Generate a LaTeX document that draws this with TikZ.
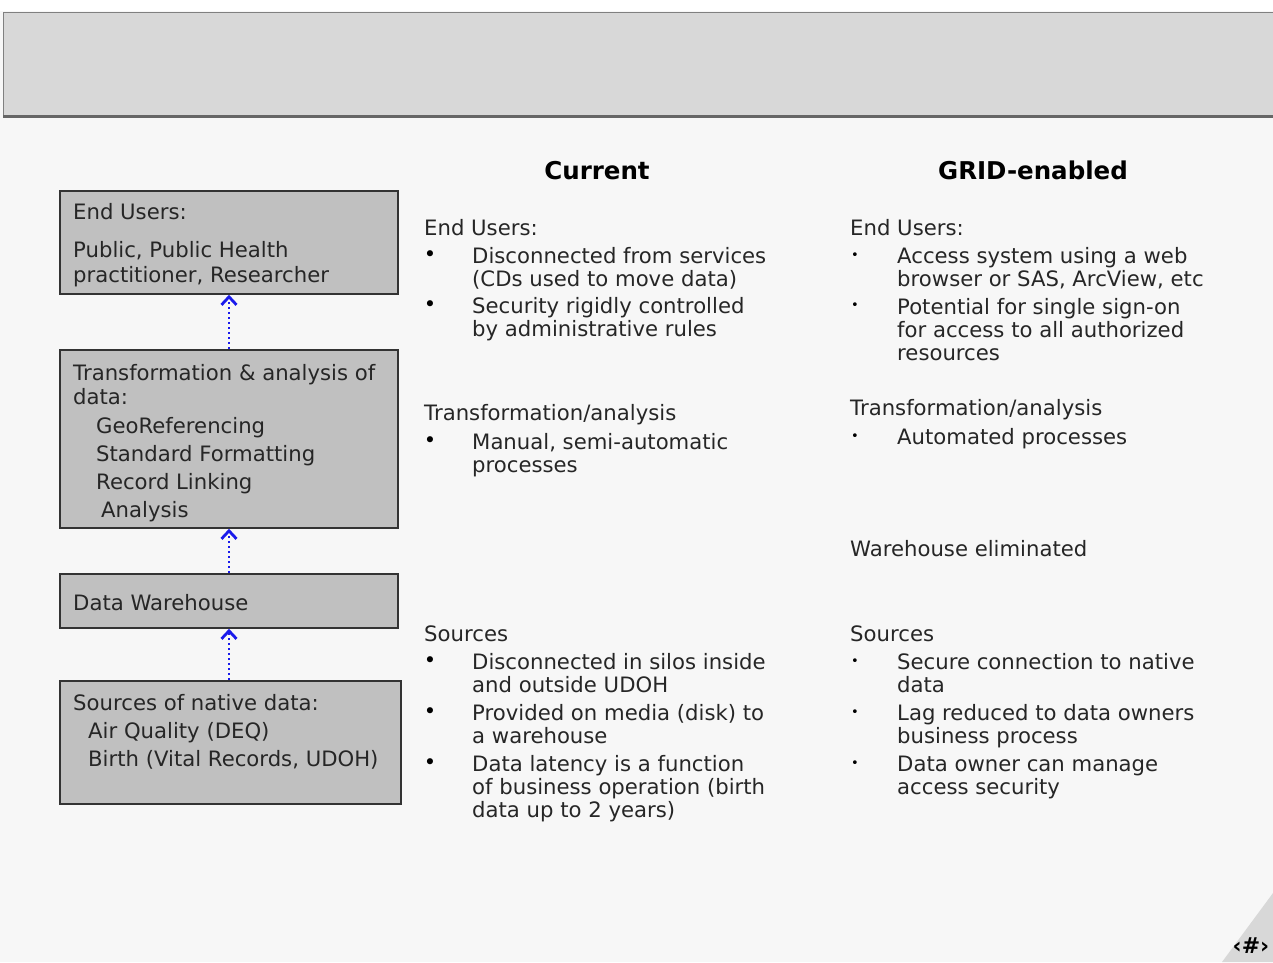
\documentclass[tikz,border=0pt]{standalone}
\usepackage{fontspec}
\setmainfont{DejaVu Sans}
\usetikzlibrary{arrows.meta}
\tikzset{>={Straight Barb[width=15pt,length=8pt,line width=2.8pt]}}
\definecolor{pagegray}{HTML}{F7F7F7}
\definecolor{bandgray}{HTML}{D8D8D8}
\definecolor{boxgray}{HTML}{C0C0C0}
\definecolor{edgegray}{HTML}{333333}
\definecolor{arrowblue}{HTML}{1A1AEB}
\definecolor{inkgray}{HTML}{262626}
\tikzset{
  layerbox/.style={draw=edgegray, line width=1.6pt, fill=boxgray, inner sep=0pt},
  txt/.style={anchor=base west, inner sep=0pt, align=left, text=inkgray,
    font=\fontsize{21.2}{23}\selectfont},
  head/.style={anchor=base, inner sep=0pt, text=black,
    font=\fontsize{24.5}{28}\selectfont\bfseries},
  bigdot/.style={anchor=center, inner sep=0pt, text=black,
    font=\fontsize{21}{23}\selectfont},
  smalldot/.style={anchor=center, inner sep=0pt, text=black,
    font=\fontsize{13}{14}\selectfont},
  uplink/.style={->, draw=arrowblue, line width=2.4pt, dash pattern=on 2.5pt off 2.5pt}
}
\begin{document}
\begin{tikzpicture}[x=1pt,y=-1pt]

  \newcommand\CA{424}
  \newcommand\CB{472}
  \newcommand\GA{850}
  \newcommand\GB{897}

  \useasboundingbox (0,0) rectangle (1273,962);
  \fill[pagegray] (0,0) rectangle (1273,962);
  \fill[white] (0,0) rectangle (1273,11);

  % title band
  \fill[bandgray] (3,12) rectangle (1273,115);
  \draw[gray, line width=1pt] (3,12) -- (1273,12);
  \draw[gray, line width=1pt] (3,12) -- (3,116);
  \draw[black!60, line width=3pt] (3,116) -- (1273,116);

  % corner
  \fill[bandgray] (1273,893) -- (1273,962) -- (1222,962) -- cycle;
  \node[anchor=base, inner sep=0pt, font=\fontsize{22}{24}\selectfont\bfseries]
    (slideno) at (1251,953) {‹\#›};

  % layers
  \node[layerbox, minimum width=338pt, minimum height=103pt] (users) at (229,242.5) {};
  \node[layerbox, minimum width=338pt, minimum height=178pt] (trans) at (229,439) {};
  \node[layerbox, minimum width=338pt, minimum height=54pt] (house) at (229,601) {};
  \node[layerbox, minimum width=341pt, minimum height=123pt] (source) at (230.5,742.5) {};

  \draw[uplink] (trans.north) -- (users.south);
  \draw[uplink] (house.north) -- (trans.south);
  \draw[uplink] (source.north -| house.south) -- (house.south);

  % multi-line texts sit on the baseline of their last line
  \node[txt] (users-a) at (73,219) {End Users:};
  \node[txt, font=\fontsize{21.2}{25}\selectfont] (users-b) at (73,282)
    {Public, Public Health\\practitioner, Researcher};
  \node[txt, font=\fontsize{21.2}{24}\selectfont] (trans-a) at (73,404)
    {Transformation \& analysis of\\data:};
  \node[txt, font=\fontsize{21.2}{28}\selectfont] (trans-b) at (96,517)
    {GeoReferencing\\Standard Formatting\\Record Linking\\\hspace*{5pt}Analysis};
  \node[txt] (house-a) at (73,610) {Data Warehouse};
  \node[txt] (source-a) at (73,710) {Sources of native data:};
  \node[txt, font=\fontsize{21.2}{28}\selectfont] (source-b) at (88,766)
    {Air Quality (DEQ)\\Birth (Vital Records, UDOH)};

  % current
  \node[head] (cur) at (597,179) {Current};
  \node[txt] (cur-eu) at (\CA,235) {End Users:};
  \node[bigdot] at (430,256) {•};
  \node[txt] (cur-eu1) at (\CB,286) {Disconnected from services\\(CDs used to move data)};
  \node[bigdot] at (430,306) {•};
  \node[txt] (cur-eu2) at (\CB,336) {Security rigidly controlled\\by administrative rules};
  \node[txt] (cur-ta) at (\CA,420) {Transformation/analysis};
  \node[bigdot] at (430,442) {•};
  \node[txt] (cur-ta1) at (\CB,472) {Manual, semi-automatic\\processes};
  \node[txt] (cur-so) at (\CA,641) {Sources};
  \node[bigdot] at (430,662) {•};
  \node[txt] (cur-so1) at (\CB,692) {Disconnected in silos inside\\and outside UDOH};
  \node[bigdot] at (430,713) {•};
  \node[txt] (cur-so2) at (\CB,743) {Provided on media (disk) to\\a warehouse};
  \node[bigdot] at (430,764) {•};
  \node[txt] (cur-so3) at (\CB,817)
    {Data latency is a function\\of business operation (birth\\data up to 2 years)};

  % grid-enabled
  \node[head] (grid) at (1033,179) {GRID-enabled};
  \node[txt] (grid-eu) at (\GA,235) {End Users:};
  \node[smalldot] at (855,256) {•};
  \node[txt] (grid-eu1) at (\GB,286) {Access system using a web\\browser or SAS, ArcView, etc};
  \node[smalldot] at (855,306) {•};
  \node[txt] (grid-eu2) at (\GB,360)
    {Potential for single sign-on\\for access to all authorized\\resources};
  \node[txt] (grid-ta) at (\GA,415) {Transformation/analysis};
  \node[smalldot] at (855,437) {•};
  \node[txt] (grid-ta1) at (\GB,444) {Automated processes};
  \node[txt] (grid-wh) at (\GA,556) {Warehouse eliminated};
  \node[txt] (grid-so) at (\GA,641) {Sources};
  \node[smalldot] at (855,662) {•};
  \node[txt] (grid-so1) at (\GB,692) {Secure connection to native\\data};
  \node[smalldot] at (855,713) {•};
  \node[txt] (grid-so2) at (\GB,743) {Lag reduced to data owners\\business process};
  \node[smalldot] at (855,764) {•};
  \node[txt] (grid-so3) at (\GB,794) {Data owner can manage\\access security};

\end{tikzpicture}
\end{document}
